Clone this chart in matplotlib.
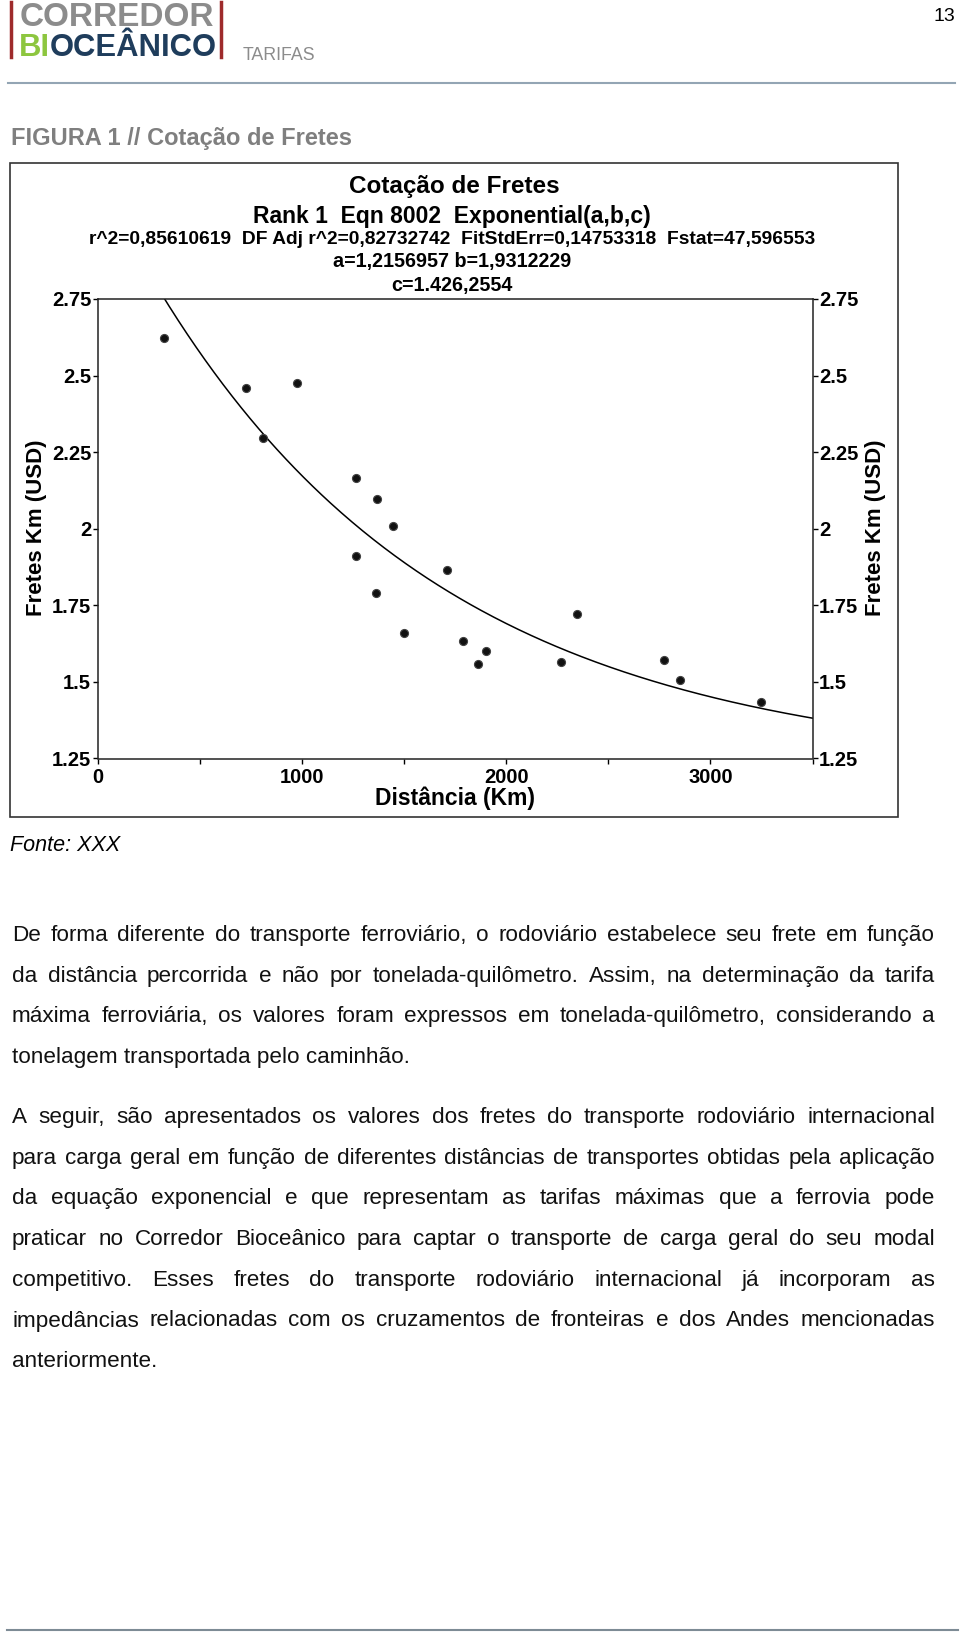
import numpy as np
import matplotlib.pyplot as plt
from matplotlib.lines import Line2D
from matplotlib.patches import Rectangle

W, H = 960, 1638
plt.rcParams['font.family'] = ['Liberation Sans', 'DejaVu Sans']

# Data
dist_km = [325, 726, 974, 811, 1264, 1370, 1447, 1264, 1709, 1361,
           1499, 1789, 1863, 1900, 2267, 2347, 2773, 2853, 3249]
frete_km = [2.622, 2.459, 2.475, 2.297, 2.167, 2.097, 2.008, 1.912, 1.865, 1.789,
            1.659, 1.634, 1.558, 1.602, 1.564, 1.723, 1.571, 1.506, 1.434]

# Fitted exponential y = a + b*exp(-x/c) (parameters from the chart header)
fit_a, fit_b, fit_c = 1.2156957, 1.9312229, 1426.2554

y_ticks = [1.25, 1.5, 1.75, 2.0, 2.25, 2.5, 2.75]
y_tick_labels = ['1.25', '1.5', '1.75', '2', '2.25', '2.5', '2.75']
x_ticks = [0, 1000, 2000, 3000]
x_minor_ticks = [500, 1500, 2500, 3500]

chart_title = 'Cotação de Fretes'
chart_sub = ['Rank 1  Eqn 8002  Exponential(a,b,c)',
             'r^2=0,85610619  DF Adj r^2=0,82732742  FitStdErr=0,14753318  Fstat=47,596553',
             'a=1,2156957 b=1,9312229',
             'c=1.426,2554']

para1 = ["De forma diferente do transporte ferroviário, o rodoviário estabelece seu frete em função",
         "da distância percorrida e não por tonelada-quilômetro. Assim, na determinação da tarifa",
         "máxima ferroviária, os valores foram expressos em tonelada-quilômetro, considerando a",
         "tonelagem transportada pelo caminhão."]
para2 = ["A seguir, são apresentados os valores dos fretes do transporte rodoviário internacional",
         "para carga geral em função de diferentes distâncias de transportes obtidas pela aplicação",
         "da equação exponencial e que representam as tarifas máximas que a ferrovia pode",
         "praticar no Corredor Bioceânico para captar o transporte de carga geral do seu modal",
         "competitivo. Esses fretes do transporte rodoviário internacional já incorporam as",
         "impedâncias relacionadas com os cruzamentos de fronteiras e dos Andes mencionadas",
         "anteriormente."]


def fx(px):
    return px / W


def fy(py):
    return 1 - py / H


fig = plt.figure(figsize=(W / 100, H / 100), dpi=100, facecolor='white')
renderer = fig.canvas.get_renderer()

# ---- page header ----
red = '#9e2a2b'
for xb in (11, 221):
    fig.add_artist(Line2D([fx(xb), fx(xb)], [fy(2), fy(57)], color=red, lw=2.5))
fig.text(fx(20), fy(26.5), 'CORREDOR', color='#8c8c8c', fontsize=24,
         fontweight='bold', va='baseline')
bi = fig.text(fx(19), fy(56.5), 'BI', color='#8dc63f', fontsize=22.3,
              fontweight='bold', va='baseline')
bi_w = bi.get_window_extent(renderer).width
fig.text(fx(19 + bi_w), fy(56.5), 'OCEÂNICO', color='#1f3d5c', fontsize=22.3,
         fontweight='bold', va='baseline')
fig.text(fx(243), fy(60), 'TARIFAS', color='#8c8c8c', fontsize=12.8, va='baseline')
fig.text(fx(955), fy(21), '13', color='black', fontsize=14, ha='right', va='baseline')
fig.add_artist(Line2D([fx(8), fx(955)], [fy(83), fy(83)], color='#93a5b4', lw=1.5))

fig.text(fx(11), fy(145), 'FIGURA 1 // Cotação de Fretes', color='#7f7f7f',
         fontsize=17, fontweight='bold', va='baseline')

# ---- chart frame ----
fig.add_artist(Rectangle((fx(10), fy(817)), fx(888), 654 / H, fill=False,
                         edgecolor='#333333', lw=1.2))

ax = fig.add_axes([fx(97.6), fy(758.5), fx(812.5 - 97.6), (758.5 - 299) / H])
xs = np.linspace(0, 3500, 400)
ax.plot(xs, fit_a + fit_b * np.exp(-xs / fit_c), color='black', lw=1.1)
ax.plot(dist_km, frete_km, 'o', color='#111111', ms=5.8, mec='#444444', mew=0.8)
ax.set_xlim(0, 3500)
ax.set_ylim(1.25, 2.75)

for s in ax.spines.values():
    s.set_color('#222222')
    s.set_linewidth(1.1)

ax.set_yticks(y_ticks)
ax.set_yticklabels(y_tick_labels, fontsize=14.5, fontweight='bold')
ax.set_xticks(x_ticks)
ax.set_xticklabels([str(t) for t in x_ticks], fontsize=14.5, fontweight='bold')
ax.set_xticks(x_minor_ticks, minor=True)
ax.tick_params(axis='x', which='major', direction='out', length=3.6, width=1, pad=3)
ax.tick_params(axis='x', which='minor', direction='out', length=3.6, width=1)
ax.tick_params(axis='y', which='both', direction='out', length=3.6, width=1, pad=1,
               right=True, labelright=True, labelsize=14.5)
for lab in ax.get_yticklabels(which='both'):
    lab.set_fontweight('bold')

fig.text(fx(36.5), fy(528), 'Fretes Km (USD)', rotation=90, fontsize=16,
         fontweight='bold', ha='center', va='center')
fig.text(fx(876), fy(528), 'Fretes Km (USD)', rotation=90, fontsize=16,
         fontweight='bold', ha='center', va='center')
fig.text(fx(455), fy(798), 'Distância (Km)', fontsize=16.5, fontweight='bold',
         ha='center', va='center')

fig.text(fx(454), fy(186), chart_title, fontsize=17.5, fontweight='bold',
         ha='center', va='center')
sub_y = [216, 239, 262, 285]
sub_fs = [16.5, 13.9, 14.2, 14.2]
for txt, yy, fs in zip(chart_sub, sub_y, sub_fs):
    fig.text(fx(452), fy(yy), txt, fontsize=fs, fontweight='bold',
             ha='center', va='center')

fig.text(fx(10), fy(845), 'Fonte: XXX', fontsize=15.5, style='italic', va='center')


# ---- body text, justified ----
def justified(lines, y0, step, x0=12, x1=935, fs=16.2):
    for i, line in enumerate(lines):
        y = fy(y0 + i * step)
        if i == len(lines) - 1:
            fig.text(fx(x0), y, line, fontsize=fs, color='#111111', va='baseline')
            continue
        words = line.split()
        objs = [fig.text(0, y, w, fontsize=fs, color='#111111', va='baseline')
                for w in words]
        widths = [o.get_window_extent(renderer).width for o in objs]
        gap = (x1 - x0 - sum(widths)) / (len(words) - 1)
        x = x0
        for o, wd in zip(objs, widths):
            o.set_x(fx(x))
            x += wd + gap


justified(para1, 941, 40.6)
justified(para2, 1123, 40.7)

# footer rule
fig.add_artist(Line2D([fx(7), fx(958)], [fy(1630), fy(1630)], color='#7d8b95', lw=1.5))

fig.savefig('out.png', dpi=100, facecolor='white')
